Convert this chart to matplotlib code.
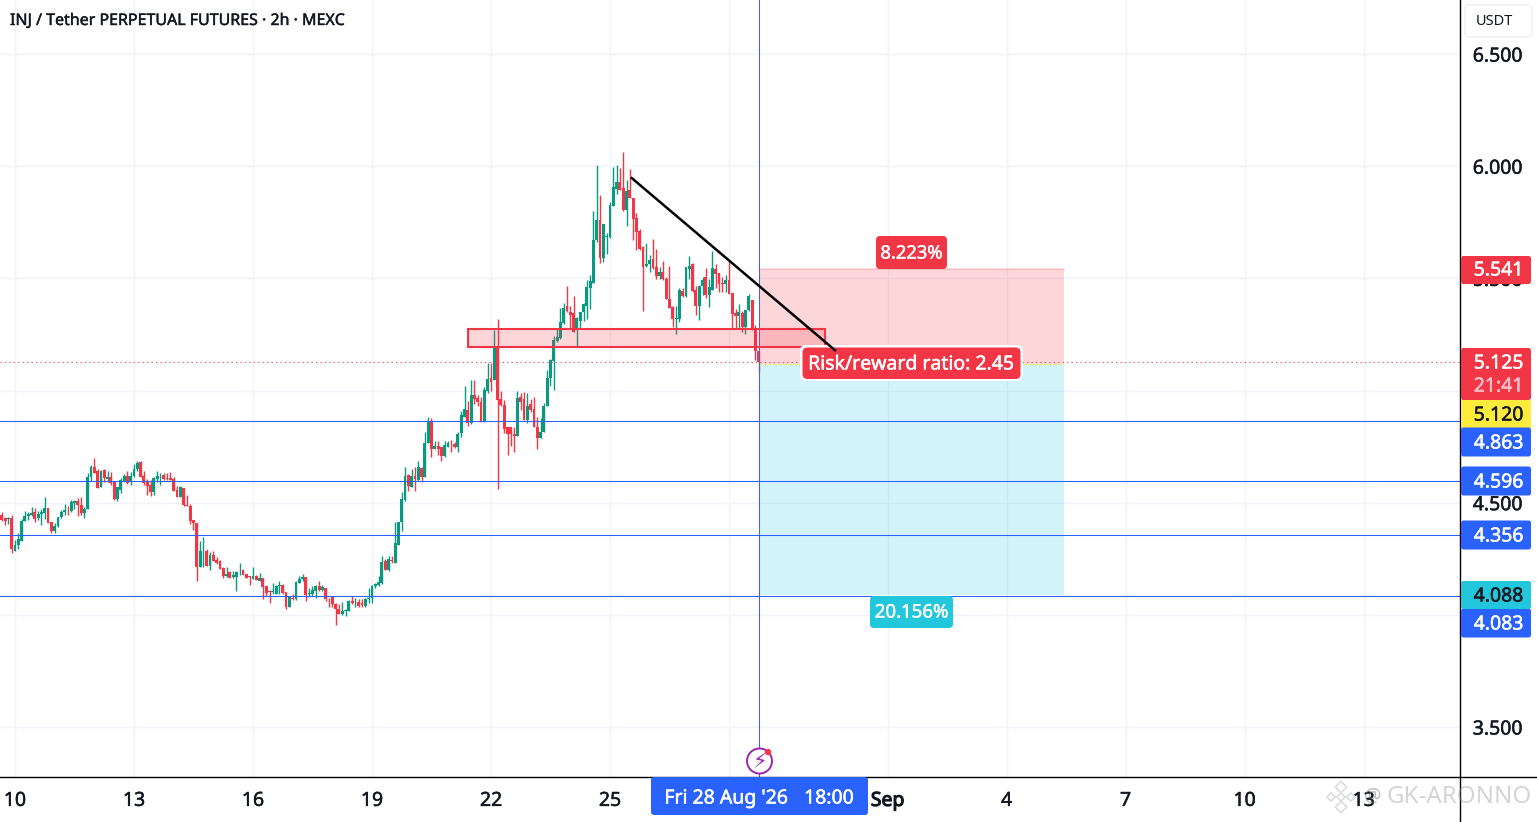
import matplotlib
matplotlib.use("Agg")
import matplotlib.pyplot as plt
import matplotlib.patheffects as pe
import numpy as np
from matplotlib.patches import FancyBboxPatch, Rectangle, Circle

# 2h candles, first one is 9 Aug 18:00ish
open_ = [
    4.447, 4.430, 4.426, 4.433, 4.286, 4.313, 4.331, 4.420, 4.442, 4.444,
    4.460, 4.432, 4.450, 4.456, 4.476, 4.412, 4.375, 4.395, 4.438, 4.457,
    4.469, 4.462, 4.499, 4.509, 4.491, 4.453, 4.470, 4.616, 4.661, 4.643,
    4.569, 4.645, 4.607, 4.616, 4.594, 4.515, 4.558, 4.598, 4.621, 4.591,
    4.618, 4.649, 4.680, 4.621, 4.591, 4.578, 4.549, 4.606, 4.622, 4.624,
    4.610, 4.612, 4.606, 4.557, 4.527, 4.567, 4.491, 4.487, 4.423, 4.411,
    4.214, 4.283, 4.286, 4.219, 4.268, 4.244, 4.238, 4.207, 4.174, 4.189,
    4.168, 4.170, 4.194, 4.199, 4.183, 4.171, 4.161, 4.174, 4.153, 4.164,
    4.130, 4.106, 4.101, 4.095, 4.127, 4.135, 4.103, 4.036, 4.077, 4.069,
    4.144, 4.158, 4.170, 4.092, 4.092, 4.107, 4.130, 4.112, 4.119, 4.072,
    4.079, 4.048, 4.027, 4.003, 4.019, 4.019, 4.063, 4.055, 4.057, 4.054,
    4.039, 4.072, 4.073, 4.128, 4.134, 4.144, 4.241, 4.199, 4.244, 4.233,
    4.312, 4.416, 4.512, 4.622, 4.571, 4.618, 4.603, 4.655, 4.613, 4.765,
    4.860, 4.740, 4.753, 4.747, 4.707, 4.750, 4.768, 4.763, 4.747, 4.810,
    4.884, 4.914, 4.857, 4.982, 4.967, 4.949, 4.860, 5.000, 5.054, 5.048,
    5.193, 4.960, 4.936, 4.839, 4.836, 4.808, 4.796, 4.973, 4.961, 4.869,
    4.940, 4.918, 4.839, 4.787, 4.814, 4.929, 5.055, 5.131, 5.220, 5.235,
    5.302, 5.375, 5.351, 5.344, 5.268, 5.308, 5.348, 5.379, 5.455, 5.479,
    5.673, 5.759, 5.589, 5.684, 5.684, 5.823, 5.900, 5.931, 5.902, 5.804,
    5.893, 5.857, 5.768, 5.711, 5.640, 5.553, 5.562, 5.585, 5.549, 5.509,
    5.527, 5.498, 5.410, 5.372, 5.318, 5.320, 5.443, 5.421, 5.541, 5.565,
    5.449, 5.376, 5.468, 5.506, 5.424, 5.449, 5.541, 5.524, 5.480, 5.473,
    5.491, 5.436, 5.345, 5.330, 5.345, 5.282, 5.357, 5.402, 5.275, 5.178,
]
high = [
    4.460, 4.438, 4.435, 4.445, 4.335, 4.365, 4.427, 4.462, 4.460, 4.482,
    4.476, 4.465, 4.472, 4.527, 4.476, 4.412, 4.408, 4.438, 4.467, 4.494,
    4.487, 4.512, 4.512, 4.521, 4.524, 4.479, 4.631, 4.667, 4.697, 4.649,
    4.646, 4.648, 4.643, 4.636, 4.598, 4.569, 4.609, 4.628, 4.640, 4.636,
    4.673, 4.685, 4.685, 4.640, 4.606, 4.601, 4.616, 4.643, 4.633, 4.634,
    4.631, 4.636, 4.616, 4.573, 4.573, 4.567, 4.536, 4.494, 4.424, 4.411,
    4.330, 4.345, 4.293, 4.281, 4.283, 4.256, 4.246, 4.214, 4.211, 4.197,
    4.197, 4.195, 4.229, 4.204, 4.183, 4.173, 4.214, 4.179, 4.185, 4.164,
    4.130, 4.110, 4.144, 4.134, 4.149, 4.137, 4.103, 4.085, 4.092, 4.149,
    4.174, 4.182, 4.170, 4.119, 4.130, 4.134, 4.149, 4.134, 4.119, 4.077,
    4.082, 4.051, 4.048, 4.058, 4.025, 4.066, 4.085, 4.077, 4.069, 4.070,
    4.075, 4.119, 4.133, 4.144, 4.174, 4.262, 4.247, 4.263, 4.263, 4.416,
    4.416, 4.549, 4.661, 4.628, 4.650, 4.661, 4.685, 4.661, 4.817, 4.884,
    4.878, 4.774, 4.774, 4.750, 4.774, 4.777, 4.780, 4.769, 4.814, 4.908,
    5.022, 4.955, 5.048, 5.048, 4.982, 4.970, 5.015, 5.124, 5.124, 5.268,
    5.321, 4.996, 4.958, 4.839, 4.839, 4.839, 4.997, 4.988, 4.993, 4.988,
    4.963, 4.970, 4.881, 4.876, 4.943, 5.092, 5.141, 5.241, 5.275, 5.368,
    5.391, 5.466, 5.375, 5.421, 5.327, 5.351, 5.391, 5.491, 5.516, 5.801,
    6.004, 5.870, 5.741, 5.702, 5.839, 5.997, 6.004, 5.990, 6.062, 5.937,
    5.987, 5.857, 5.792, 5.722, 5.643, 5.657, 5.602, 5.674, 5.629, 5.550,
    5.577, 5.506, 5.553, 5.375, 5.375, 5.458, 5.458, 5.550, 5.598, 5.570,
    5.468, 5.468, 5.506, 5.547, 5.498, 5.620, 5.565, 5.524, 5.506, 5.513,
    5.577, 5.436, 5.364, 5.384, 5.354, 5.361, 5.431, 5.402, 5.293, 5.178,
]
low = [
    4.420, 4.402, 4.405, 4.277, 4.283, 4.293, 4.331, 4.417, 4.424, 4.442,
    4.415, 4.423, 4.402, 4.427, 4.408, 4.363, 4.363, 4.393, 4.432, 4.447,
    4.447, 4.459, 4.472, 4.442, 4.447, 4.430, 4.470, 4.598, 4.631, 4.564,
    4.569, 4.591, 4.591, 4.579, 4.512, 4.509, 4.542, 4.591, 4.584, 4.579,
    4.616, 4.643, 4.613, 4.581, 4.536, 4.531, 4.536, 4.591, 4.578, 4.601,
    4.603, 4.603, 4.554, 4.524, 4.524, 4.487, 4.484, 4.405, 4.378, 4.152,
    4.211, 4.214, 4.219, 4.201, 4.241, 4.226, 4.204, 4.162, 4.170, 4.165,
    4.164, 4.107, 4.179, 4.176, 4.165, 4.134, 4.161, 4.155, 4.152, 4.069,
    4.085, 4.051, 4.095, 4.092, 4.092, 4.092, 4.024, 4.033, 4.066, 4.067,
    4.141, 4.152, 4.060, 4.085, 4.085, 4.077, 4.104, 4.107, 4.060, 4.036,
    4.036, 3.955, 4.003, 4.000, 3.996, 4.018, 4.048, 4.033, 4.033, 4.036,
    4.036, 4.051, 4.051, 4.119, 4.130, 4.137, 4.199, 4.195, 4.233, 4.233,
    4.312, 4.375, 4.509, 4.554, 4.571, 4.554, 4.598, 4.591, 4.613, 4.765,
    4.705, 4.740, 4.714, 4.685, 4.705, 4.747, 4.725, 4.743, 4.725, 4.792,
    4.881, 4.842, 4.851, 4.940, 4.929, 4.860, 4.860, 4.988, 5.000, 5.048,
    4.561, 4.929, 4.810, 4.714, 4.754, 4.725, 4.796, 4.914, 4.869, 4.854,
    4.903, 4.836, 4.738, 4.787, 4.814, 4.929, 5.022, 5.004, 5.216, 5.228,
    5.298, 5.350, 5.274, 5.259, 5.196, 5.280, 5.312, 5.320, 5.365, 5.479,
    5.662, 5.568, 5.573, 5.607, 5.681, 5.823, 5.878, 5.893, 5.801, 5.732,
    5.860, 5.670, 5.628, 5.628, 5.353, 5.550, 5.528, 5.543, 5.498, 5.498,
    5.494, 5.407, 5.369, 5.282, 5.250, 5.305, 5.419, 5.419, 5.498, 5.439,
    5.338, 5.315, 5.424, 5.413, 5.372, 5.446, 5.458, 5.439, 5.439, 5.439,
    5.431, 5.275, 5.275, 5.275, 5.260, 5.253, 5.354, 5.268, 5.134, 5.082,
]
close = [
    4.423, 4.420, 4.430, 4.292, 4.313, 4.338, 4.420, 4.442, 4.450, 4.456,
    4.429, 4.450, 4.460, 4.476, 4.408, 4.375, 4.398, 4.438, 4.460, 4.469,
    4.466, 4.502, 4.509, 4.491, 4.456, 4.472, 4.613, 4.661, 4.634, 4.564,
    4.640, 4.609, 4.616, 4.587, 4.517, 4.569, 4.603, 4.619, 4.587, 4.619,
    4.651, 4.677, 4.613, 4.587, 4.573, 4.549, 4.609, 4.621, 4.625, 4.604,
    4.604, 4.603, 4.554, 4.527, 4.569, 4.488, 4.487, 4.420, 4.408, 4.214,
    4.286, 4.286, 4.219, 4.268, 4.241, 4.229, 4.205, 4.174, 4.182, 4.165,
    4.179, 4.192, 4.197, 4.179, 4.165, 4.168, 4.174, 4.156, 4.165, 4.125,
    4.098, 4.103, 4.104, 4.130, 4.133, 4.097, 4.036, 4.080, 4.069, 4.147,
    4.159, 4.170, 4.089, 4.097, 4.110, 4.130, 4.112, 4.125, 4.069, 4.069,
    4.048, 4.024, 4.005, 4.015, 4.022, 4.063, 4.054, 4.058, 4.040, 4.043,
    4.072, 4.077, 4.130, 4.138, 4.147, 4.237, 4.201, 4.248, 4.238, 4.318,
    4.416, 4.516, 4.621, 4.573, 4.621, 4.604, 4.661, 4.613, 4.768, 4.860,
    4.738, 4.753, 4.741, 4.707, 4.757, 4.766, 4.765, 4.746, 4.808, 4.893,
    4.918, 4.857, 4.982, 4.960, 4.948, 4.860, 5.004, 5.052, 5.036, 5.193,
    4.958, 4.936, 4.830, 4.805, 4.804, 4.796, 4.967, 4.948, 4.869, 4.933,
    4.911, 4.836, 4.787, 4.817, 4.933, 5.057, 5.134, 5.223, 5.238, 5.304,
    5.369, 5.353, 5.335, 5.263, 5.323, 5.351, 5.387, 5.460, 5.487, 5.670,
    5.759, 5.589, 5.741, 5.690, 5.826, 5.906, 5.928, 5.893, 5.804, 5.888,
    5.860, 5.763, 5.705, 5.631, 5.551, 5.562, 5.583, 5.546, 5.509, 5.527,
    5.495, 5.407, 5.369, 5.317, 5.324, 5.446, 5.421, 5.549, 5.553, 5.442,
    5.376, 5.468, 5.494, 5.424, 5.461, 5.546, 5.521, 5.473, 5.474, 5.491,
    5.431, 5.339, 5.330, 5.348, 5.282, 5.361, 5.421, 5.272, 5.178, 5.125,
]

# x axis is in days counted from 1 Aug, so Sep 1 = 32
tick_days = [10, 13, 16, 19, 22, 25, 28, 32, 35, 38, 41, 44]
tick_names = ["10", "13", "16", "19", "22", "25", "28", "Sep", "4", "7", "10", "13"]
price_ticks = [3.5, 4.0, 4.5, 5.0, 5.5, 6.0, 6.5]
hlines = [4.863, 4.596, 4.356, 4.083]

last_price = 5.125
entry = 5.120
stop = 5.541
target = 4.088

UP = "#089981"
DOWN = "#f23645"
BLUE = "#2962ff"
TEAL = "#22c7dc"
TXT = "#131722"
FONT = "Noto Sans"

plt.rcParams["font.family"] = [FONT, "DejaVu Sans"]

W, H = 1537, 822
fig = plt.figure(figsize=(W / 100, H / 100), dpi=100)
ax = fig.add_axes([0, (H - 777) / H, 1460 / W, 777 / H])
ax.set_xlim(9.622, 46.43)
ax.set_ylim(3.277, 6.741)

o = np.array(open_)
h = np.array(high)
l = np.array(low)
c = np.array(close)
t = 10 + (np.arange(len(o)) - 4) / 12
up = c >= o
colors = np.where(up, UP, DOWN)

ax.grid(True, color="#f0f3fa", linewidth=1)
ax.set_axisbelow(True)

# position tool
pos_l, pos_r = 28.755, 36.44
ax.add_patch(Rectangle((pos_l, entry), pos_r - pos_l, stop - entry, fc=DOWN, alpha=0.2, ec="none", zorder=1))
ax.add_patch(Rectangle((pos_l, target), pos_r - pos_l, entry - target, fc=TEAL, alpha=0.2, ec="none", zorder=1))
ax.plot([pos_l, pos_r], [stop, stop], color=DOWN, alpha=0.2, lw=1.2, zorder=1)

ax.vlines(t, l, h, colors=colors, linewidth=1.0, zorder=3)
ax.bar(t, np.abs(c - o), bottom=np.minimum(o, c), width=0.072, color=colors, linewidth=0, zorder=4)

for p in hlines:
    ax.axhline(p, color=BLUE, lw=0.75, zorder=5)
ax.axhline(last_price, color=DOWN, lw=0.8, ls=(0, (1, 3)), zorder=5)
ax.plot([pos_l, pos_r], [entry, entry], color="#ffeb3b", lw=0.9, ls=(0, (2, 2)), zorder=5)
ax.axvline(28.75, color="#4a5fdc", lw=0.75, zorder=5)

# zone
ax.add_patch(Rectangle((21.42, 5.194), 9.0, 0.08, fc=DOWN, alpha=0.2, ec="none", zorder=6))
ax.add_patch(Rectangle((21.42, 5.194), 9.0, 0.08, fc="none", ec=DOWN, lw=1.5, zorder=6))

ax.set_xticks(tick_days)
ax.set_xticklabels(tick_names)
ax.set_yticks(price_ticks)
ax.set_yticklabels(["%.3f" % p for p in price_ticks])
ax.yaxis.tick_right()
ax.tick_params(axis="x", length=0, pad=10, labelsize=14, labelcolor=TXT)
ax.tick_params(axis="y", length=0, pad=9.2, labelsize=14, labelcolor=TXT)
for lab in ax.get_xticklabels() + ax.get_yticklabels():
    width = 0.8 if lab.get_text() == "Sep" else 0.35
    lab.set_path_effects([pe.withStroke(linewidth=width, foreground=TXT)])
for s in ax.spines.values():
    s.set_visible(False)

# overlay in pixels for the chart chrome
ov = fig.add_axes([0, 0, 1, 1], facecolor="none")
ov.set_xlim(0, W)
ov.set_ylim(H, 0)
ov.axis("off")


def box(x0, y0, x1, y1, fc, ec="none", lw=0, rad=2.5, z=10):
    ov.add_patch(FancyBboxPatch((x0 + rad, y0 + rad), x1 - x0 - 2 * rad, y1 - y0 - 2 * rad,
                                boxstyle="round,pad=%f,rounding_size=%f" % (rad, rad),
                                fc=fc, ec=ec, lw=lw, zorder=z))


def label(x, y, txt, size=14, color="white", stroke=0.35, **kw):
    t_ = ov.text(x, y + 1.5, txt, fontsize=size, color=color, va="center", ha=kw.pop("ha", "center"), zorder=12, **kw)
    if stroke:
        t_.set_path_effects([pe.withStroke(linewidth=stroke, foreground=color)])
    return t_


ov.plot([1460, 1460], [0, H], color="black", lw=1, zorder=9)
ov.plot([0, W], [777, 777], color="black", lw=1, zorder=9)

label(10, 19.5, "INJ / Tether PERPETUAL FUTURES · 2h · MEXC", size=11.5, color=TXT, stroke=0.3, ha="left", fontweight="bold")

# USDT button
box(1465, 5, 1532, 37, "white", ec="#eef0f4", lw=1, rad=4)
label(1494, 20, "USDT", size=10.5, color=TXT, stroke=0)

# price labels on the right
box(1461, 256, 1531, 284, DOWN)
label(1498.5, 269, "5.541")
box(1461, 348, 1531, 400, DOWN)
label(1498.5, 362, "5.125")
label(1498.5, 385, "21:41", color="#fbc1c7")
ov.add_patch(Rectangle((1461, 400), 70, 28, fc="#ffeb3b", ec="none", zorder=10))
label(1498.5, 414, "5.120", color=TXT)
for txt, yc in [("4.863", 442), ("4.596", 481), ("4.356", 535), ("4.083", 623)]:
    box(1461, yc - 14.5, 1531, yc + 14.5, BLUE)
    label(1498.5, yc, txt)
box(1461, 581, 1531, 609, TEAL)
label(1498.5, 595, "4.088", color=TXT)

# position labels
box(876, 236, 947, 269, DOWN, rad=4)
label(911.5, 252, "8.223%", size=13.2)
box(800, 345, 1023, 381, "white", rad=6)
box(802.5, 347.5, 1020.5, 379, DOWN, rad=5, z=11)
label(911, 363, "Risk/reward ratio: 2.45", size=14)
box(870, 596, 953, 628, TEAL, rad=4)
label(911.5, 611, "20.156%", size=13.4)

# trendline goes over the risk/reward label
ov.plot([25.55, 30.67], [5.947, 5.18], color="black", lw=1.8, transform=ax.transData, zorder=13)

# crosshair date label
box(651, 777, 868, 815, BLUE, rad=3)
label(726, 797, "Fri 28 Aug '26")
label(829, 797, "18:00")

# alert icon
ov.add_patch(Circle((759.5, 761), 12.5, fc="white", ec="#9c27b0", lw=1.4, zorder=12))
ov.text(759.5, 762, "\u26a1", fontsize=15, color="#9c27b0", family="DejaVu Sans", va="center", ha="center", zorder=13)
ov.add_patch(Circle((768, 752), 3.2, fc=DOWN, ec="none", zorder=14))

# watermark
ov.text(1364, 797, "@", fontsize=14, color="#8a8a8a", alpha=0.55, va="center", ha="left", zorder=12)
ov.text(1387, 797, "GK-ARONNO", fontsize=17.3, color="#9a9a9a", alpha=0.42, va="center", ha="left", zorder=12)
ov.scatter([1341, 1331, 1351, 1341, 1341], [787, 797, 797, 797, 807], marker="D", s=[34, 18, 18, 18, 34],
           fc="white", ec="#dcdcdc", lw=1.2, zorder=11)

fig.savefig("out.png", dpi=100, facecolor="white")
